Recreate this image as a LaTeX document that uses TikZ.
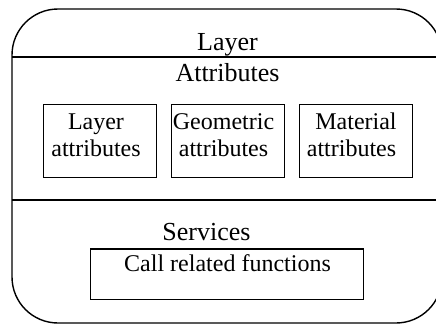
\documentclass[tikz,border=0pt]{standalone}
\usepackage{fontspec}
\setmainfont{Liberation Serif}
\begin{document}
\begin{tikzpicture}[x=1pt,y=-1pt,
  frame/.style={draw=black,line width=1.4pt},
  box/.style={draw=black,line width=1.4pt,inner sep=0pt,minimum width=113pt,minimum height=73pt},
  head/.style={inner sep=0pt,anchor=base,font=\fontsize{26}{26}\selectfont},
  txt/.style={inner sep=0pt,anchor=base,font=\fontsize{24}{24}\selectfont}]
\useasboundingbox (0,0) rectangle (436,324);
\begin{scope}
\clip (0,0) rectangle (436,324);
\draw[frame,rounded corners=46pt] (442,80) -- (442,9) -- (12,9) -- (12,323) -- (442,323) -- (442,250);
\coordinate (l1a) at (12,57);
\coordinate (l1b) at (442,57);
\coordinate (l2a) at (12,200);
\coordinate (l2b) at (442,200);
\draw[frame] (l1a) -- (l1b);
\draw[frame] (l2a) -- (l2b);
\end{scope}
% headings
\node[head] (layer) at (227.5,50.7) {Layer};
\node[head] (attr) at (227.5,81) {Attributes};
\node[head] (serv) at (206.5,240) {Services};
% attribute boxes
\node[box] (b1) at (99.7,140.8) {};
\node[box] (b2) at (228,140.8) {};
\node[box] (b3) at (356,140.8) {};
\node[txt] (b1a) at (96,129.5) {Layer};
\node[txt] (b1b) at (96,156.7) {attributes};
\node[txt] (b2a) at (223.5,129.5) {Geometric};
\node[txt] (b2b) at (223.5,156.7) {attributes};
\node[txt] (b3a) at (356,129.5) {Material};
\node[txt] (b3b) at (351.5,156.7) {attributes};
% services box
\node[box,minimum width=272.6pt,minimum height=50.3pt] (call) at (227,274.2) {};
\node[txt] (callt) at (227.5,271.5) {Call related functions};
\end{tikzpicture}
\end{document}
